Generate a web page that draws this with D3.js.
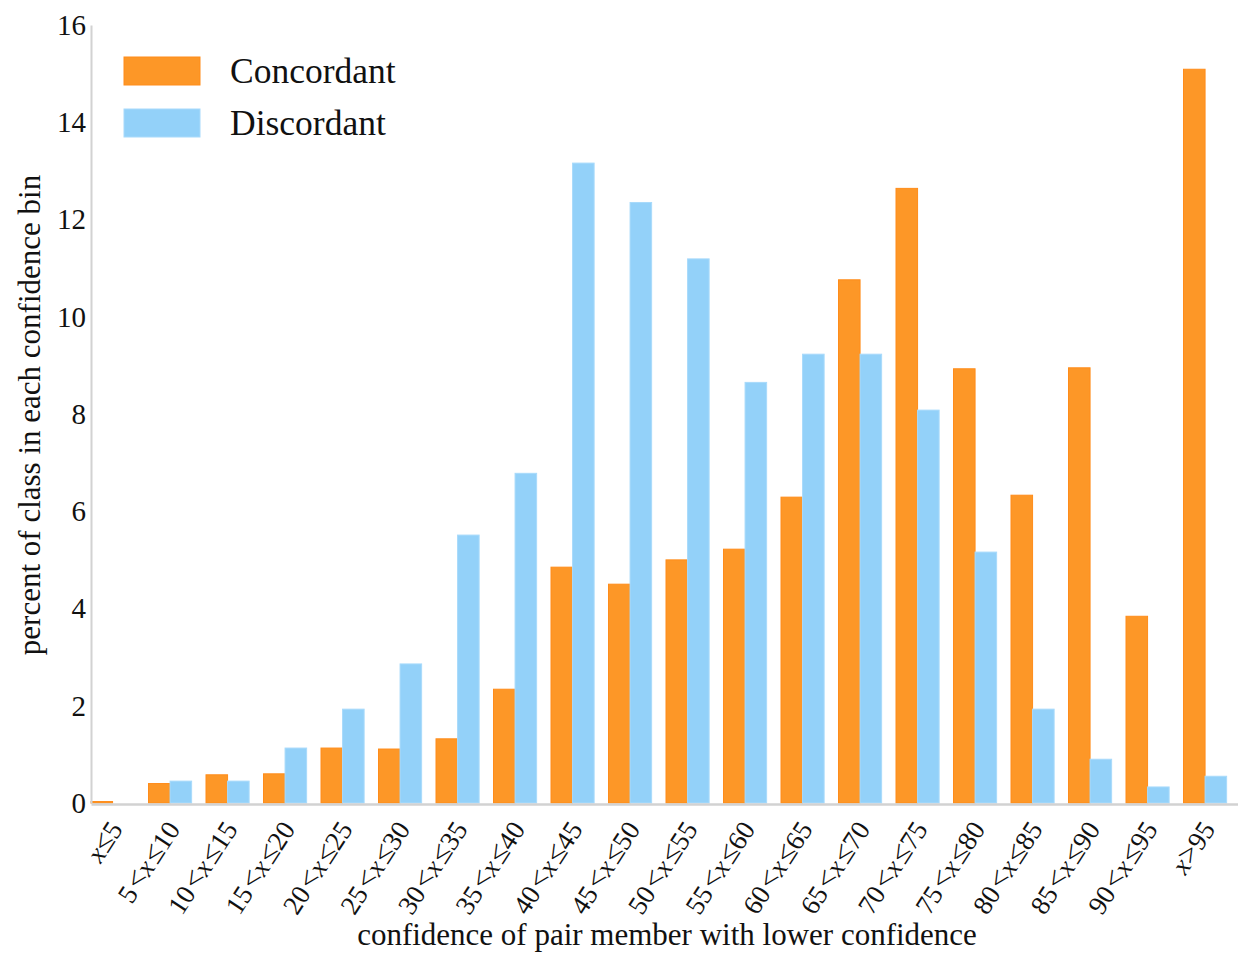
<!DOCTYPE html>
<html>
<head>
<meta charset="utf-8">
<script src="https://cdn.jsdelivr.net/npm/d3@7"></script>
<style>
  html, body { margin: 0; padding: 0; background: #fff; }
  svg { display: block; font-family: "Liberation Serif", "Times New Roman", serif; }
</style>
</head>
<body>
<svg id="chart" width="1238" height="953"></svg>
<script>
// ---- data ----
const binLower = [null, 5, 10, 15, 20, 25, 30, 35, 40, 45, 50, 55, 60, 65, 70, 75, 80, 85, 90, null];
const binUpper = [5, 10, 15, 20, 25, 30, 35, 40, 45, 50, 55, 60, 65, 70, 75, 80, 85, 90, 95, 95];
const categories = binUpper.map((u, i) => "bin" + i);
const seriesNames = ["Concordant", "Discordant"];
const concordant = [0.03, 0.4, 0.58, 0.6, 1.13, 1.11, 1.32, 2.34, 4.85, 4.5, 5.0, 5.22, 6.29, 10.76, 12.64, 8.93, 6.33, 8.95, 3.84, 15.09];
const discordant = [0.0, 0.45, 0.45, 1.13, 1.93, 2.86, 5.51, 6.78, 13.16, 12.35, 11.19, 8.65, 9.23, 9.23, 8.08, 5.16, 1.93, 0.9, 0.33, 0.55];
const yTicks = [0, 2, 4, 6, 8, 10, 12, 14, 16];
const colors = { Concordant: "#fd9727", Discordant: "#93d1f9" };
const strokes = { Concordant: "#ff8c1a", Discordant: "#a8dafb" };
const xTitle = "confidence of pair member with lower confidence";
const yTitle = "percent of class in each confidence bin";

// ---- layout ----
const svg = d3.select("#chart");
const mLeft = 91, mRight = 1241, mTop = 25, mBottom = 803;

const x = d3.scaleBand().domain(categories).range([mLeft, mRight]).paddingInner(0).paddingOuter(0);
const x1 = d3.scaleBand().domain(seriesNames).range([0, x.step() * 0.75]).padding(0);
const y = d3.scaleLinear().domain([0, 16]).range([mBottom, mTop]);

const rows = categories.map((c, i) => ({ c, i, Concordant: concordant[i], Discordant: discordant[i] }));

// bars
const g = svg.append("g");
rows.forEach(r => {
  seriesNames.forEach(s => {
    if (r[s] <= 0) return;
    g.append("rect")
      .attr("x", x(r.c) + x1(s))
      .attr("y", y(r[s]))
      .attr("width", x1.bandwidth())
      .attr("height", y(0) - y(r[s]))
      .attr("fill", colors[s])
      .attr("stroke", strokes[s])
      .attr("stroke-width", 1);
  });
});

// y axis
const yAxis = d3.axisLeft(y).tickValues(yTicks).tickSize(0).tickPadding(5);
const ya = svg.append("g").attr("transform", `translate(${mLeft},0)`).call(yAxis);
ya.select(".domain").attr("stroke", "#d2d2d2").attr("stroke-width", 2);
ya.selectAll("text").attr("font-size", 29).attr("fill", "#111")
  .attr("font-family", "Liberation Serif, serif");

// x axis line
const xa = svg.append("g").attr("transform", `translate(0,${mBottom})`)
  .call(d3.axisBottom(x).tickSize(0).tickFormat(""));
xa.select(".domain").attr("stroke", "#d2d2d2").attr("stroke-width", 2.5)
  .attr("transform", "translate(0,1)");

// x tick labels (rotated)
const labG = svg.append("g");
rows.forEach(r => {
  const cx = x(r.c) + x1.range()[1] / 2;
  const t = labG.append("text")
    .attr("transform", `translate(${cx + 3},${mBottom + 21}) rotate(-57)`)
    .attr("text-anchor", "end")
    .attr("dy", "0.35em")
    .attr("font-size", 27)
    .attr("fill", "#111");
  const i = r.i;
  const sym = (s) => t.append("tspan").attr("font-size", 30).text(s);
  if (i === 0) {
    t.append("tspan").attr("font-style", "italic").text("x");
    sym("≤");
    t.append("tspan").text(binUpper[i]);
  } else if (i === categories.length - 1) {
    t.append("tspan").attr("font-style", "italic").text("x");
    sym(">");
    t.append("tspan").text(binUpper[i]);
  } else {
    t.append("tspan").text(binLower[i] + "\u200A");
    sym("<");
    t.append("tspan").attr("font-style", "italic").text("x\u200A");
    sym("≤");
    t.append("tspan").text(binUpper[i]);
  }
});

// axis titles
svg.append("text")
  .attr("x", 667).attr("y", 945)
  .attr("text-anchor", "middle")
  .attr("font-size", 31)
  .attr("fill", "#111")
  .text(xTitle);

svg.append("text")
  .attr("transform", `translate(40,415) rotate(-90)`)
  .attr("text-anchor", "middle")
  .attr("font-size", 31)
  .attr("fill", "#111")
  .text(yTitle);

// legend
const leg = svg.append("g");
seriesNames.forEach((s, i) => {
  const ly = 57 + i * 52;
  leg.append("rect")
    .attr("x", 124).attr("y", ly)
    .attr("width", 76).attr("height", 28)
    .attr("fill", colors[s]).attr("stroke", strokes[s]).attr("stroke-width", 1);
  leg.append("text")
    .attr("x", 230).attr("y", ly + 14)
    .attr("dy", "0.35em")
    .attr("font-size", 35.5)
    .attr("fill", "#111")
    .text(s);
});
</script>
</body>
</html>
